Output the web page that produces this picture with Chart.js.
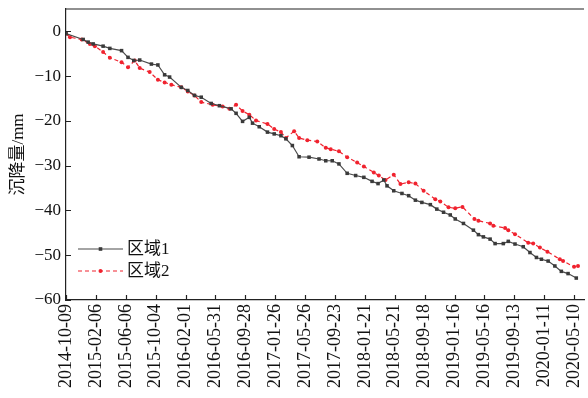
<!DOCTYPE html>
<html>
<head>
<meta charset="utf-8">
<script src="https://cdn.jsdelivr.net/npm/chart.js@4"></script>
<style>
  html, body { margin: 0; padding: 0; background: #fff; }
  #wrap { width: 588px; height: 398px; position: relative; }
</style>
</head>
<body>
<div id="wrap"><canvas id="chart"></canvas></div>
<script>
// --- dados (dias desde 2014-10-09, recalque em mm) ---
const xTickLabels = ['2014-10-09', '2015-02-06', '2015-06-06', '2015-10-04', '2016-02-01', '2016-05-31',
  '2016-09-28', '2017-01-26', '2017-05-26', '2017-09-23', '2018-01-21', '2018-05-21', '2018-09-18',
  '2019-01-16', '2019-05-16', '2019-09-13', '2020-01-11', '2020-05-10'];
const xTickDays = xTickLabels.map((_, i) => i * 120);
const yTickValues = [0, -10, -20, -30, -40, -50, -60];

const area1Days = [0, 69, 89, 109, 149, 176, 223, 249, 272, 296, 343, 369, 396, 416, 463, 489, 516,
  543, 583, 616, 663, 683, 709, 736, 749, 776, 809, 836, 863, 883, 909, 936, 976, 1016, 1043,
  1069, 1096, 1129, 1163, 1196, 1229, 1253, 1276, 1289, 1316, 1349, 1376, 1403, 1429, 1463, 1489, 1516, 1543, 1563,
  1596, 1636, 1656, 1676, 1703, 1723, 1756, 1776, 1803, 1836, 1863, 1889, 1909, 1936, 1963, 1989, 2016, 2049];
const area1Values = [-0.5, -1.8, -2.4, -2.8, -3.3, -3.8, -4.3, -5.8, -6.5, -6.4, -7.3, -7.5, -9.7, -10.2, -12.5, -13.2, -14.3,
  -14.7, -16.1, -16.6, -17.3, -18.3, -20.1, -19.2, -20.5, -21.3, -22.5, -22.9, -23.3, -24.0, -25.5, -28.0, -28.1, -28.5, -28.9,
  -28.9, -29.6, -31.7, -32.2, -32.6, -33.5, -34.0, -33.2, -34.5, -35.6, -36.2, -36.7, -37.7, -38.2, -38.7, -39.7, -40.4, -41.0, -41.9,
  -42.9, -44.4, -45.4, -45.9, -46.4, -47.4, -47.4, -46.9, -47.5, -48.1, -49.4, -50.5, -50.9, -51.3, -52.4, -53.6, -54.1, -55.1];

const area2Days = [0, 16, 63, 96, 116, 149, 176, 223, 249, 276, 296, 336, 369, 396, 423, 463, 489, 516,
  543, 589, 629, 656, 683, 709, 736, 763, 809, 836, 863, 883, 916, 936, 969, 1009, 1043,
  1063, 1096, 1129, 1169, 1196, 1236, 1256, 1283, 1316, 1343, 1376, 1403, 1436, 1483, 1503, 1536, 1563,
  1592, 1640, 1656, 1703, 1716, 1763, 1776, 1803, 1856, 1876, 1903, 1933, 1983, 1996, 2040, 2056];
const area2Values = [-0.5, -1.3, -1.8, -2.8, -3.3, -4.6, -5.9, -6.9, -8.0, -6.5, -8.2, -9.1, -10.8, -11.4, -11.9, -12.5, -13.4, -14.3,
  -15.8, -16.4, -16.8, -17.3, -16.4, -17.8, -18.6, -19.9, -20.7, -21.8, -22.5, -23.8, -22.3, -23.8, -24.3, -24.6, -26.0,
  -26.3, -26.8, -28.1, -29.3, -30.2, -31.5, -32.2, -33.2, -32.0, -34.1, -33.7, -34.0, -35.6, -37.5, -38.0, -39.3, -39.5,
  -39.2, -41.9, -42.3, -42.9, -43.4, -43.9, -44.4, -45.3, -47.2, -47.4, -48.3, -49.2, -50.9, -51.3, -52.6, -52.4];

const seriesNames = ['区域1', '区域2'];

const FONT = "'Liberation Serif', 'Noto Sans CJK SC', serif";
const toPoints = (xs, ys) => xs.map((x, i) => ({ x, y: ys[i] }));

// --- plugin: moldura superior, ticks para dentro e legenda ---
const framePlugin = {
  id: 'frame',
  afterDraw(chart) {
    const { ctx, chartArea: ca, scales } = chart;
    ctx.save();
    ctx.strokeStyle = '#222';
    ctx.lineWidth = 1.2;
    ctx.beginPath();
    ctx.moveTo(ca.left, ca.top);
    ctx.lineTo(ca.right, ca.top);
    // ticks do eixo y (para dentro)
    scales.y.ticks.forEach(t => {
      const py = Math.round(scales.y.getPixelForValue(t.value)) + 0.5;
      ctx.moveTo(ca.left, py);
      ctx.lineTo(ca.left + 5, py);
    });
    // ticks do eixo x (para cima)
    scales.x.ticks.forEach(t => {
      const px = Math.round(scales.x.getPixelForValue(t.value)) + 0.5;
      ctx.moveTo(px, ca.bottom);
      ctx.lineTo(px, ca.bottom - 5);
    });
    ctx.stroke();

    // legenda
    const lx = ca.left + 12, ly = ca.bottom - 51, lw = 45, gap = 22;
    chart.data.datasets.forEach((ds, i) => {
      const y = ly + i * gap;
      ctx.strokeStyle = ds.borderColor;
      ctx.lineWidth = ds.borderWidth;
      ctx.setLineDash(ds.borderDash || []);
      ctx.beginPath();
      ctx.moveTo(lx, y);
      ctx.lineTo(lx + lw, y);
      ctx.stroke();
      ctx.setLineDash([]);
      ctx.fillStyle = ds.pointBackgroundColor;
      const cx = lx + lw / 2;
      if (ds.pointStyle === 'rect') ctx.fillRect(cx - 1.8, y - 1.8, 3.6, 3.6);
      else { ctx.beginPath(); ctx.arc(cx, y, 2, 0, Math.PI * 2); ctx.fill(); }
      ctx.fillStyle = '#111';
      ctx.font = '17px ' + FONT;
      ctx.textBaseline = 'middle';
      ctx.fillText(ds.label, lx + lw + 4, y + 1);
    });
    ctx.restore();
  }
};

new Chart(document.getElementById('chart'), {
  type: 'line',
  data: {
    datasets: [
      {
        label: seriesNames[0],
        data: toPoints(area1Days, area1Values),
        borderColor: '#4a4a4a',
        borderWidth: 1.2,
        pointStyle: 'rect',
        pointRadius: 2.5,
        pointBackgroundColor: '#3a3a3a',
        pointBorderWidth: 0,
        tension: 0,
      },
      {
        label: seriesNames[1],
        data: toPoints(area2Days, area2Values),
        borderColor: '#f0222e',
        borderWidth: 1.2,
        borderDash: [4, 3],
        pointStyle: 'circle',
        pointRadius: 2,
        pointBackgroundColor: '#f0222e',
        pointBorderWidth: 0,
        tension: 0,
      }
    ]
  },
  options: {
    responsive: true,
    maintainAspectRatio: false,
    animation: false,
    parsing: false,
    layout: { padding: { top: 9, right: 2, left: 0, bottom: 0 } },
    plugins: {
      legend: { display: false },
      tooltip: { enabled: false },
    },
    scales: {
      x: {
        type: 'linear',
        min: 0,
        max: 2080,
        afterBuildTicks: s => { s.ticks = xTickDays.map(v => ({ value: v })); },
        afterFit: s => { s.height = 98; s.paddingLeft = 0; s.paddingRight = 0; },
        grid: { display: false, drawTicks: false },
        border: { display: true, color: '#222', width: 1.2 },
        ticks: {
          autoSkip: false,
          maxRotation: 90,
          minRotation: 90,
          padding: 4,
          color: '#111',
          font: { family: FONT, size: 18 },
          callback: (v, i) => xTickLabels[i],
        }
      },
      y: {
        min: -60,
        max: 5,
        afterBuildTicks: s => { s.ticks = yTickValues.map(v => ({ value: v })); },
        afterFit: s => { s.width = 66; s.paddingTop = 0; s.paddingBottom = 0; },
        grid: { display: false, drawTicks: false },
        border: { display: true, color: '#222', width: 1.2 },
        title: {
          display: true,
          text: '沉降量/mm',
          color: '#111',
          font: { family: FONT, size: 17 },
          padding: { top: 8, bottom: 0 },
        },
        ticks: {
          padding: 5,
          color: '#111',
          font: { family: FONT, size: 17 },
          callback: v => (v < 0 ? '\u2212' + Math.abs(v) : String(v)),
        }
      }
    }
  },
  plugins: [framePlugin]
});
</script>
</body>
</html>
